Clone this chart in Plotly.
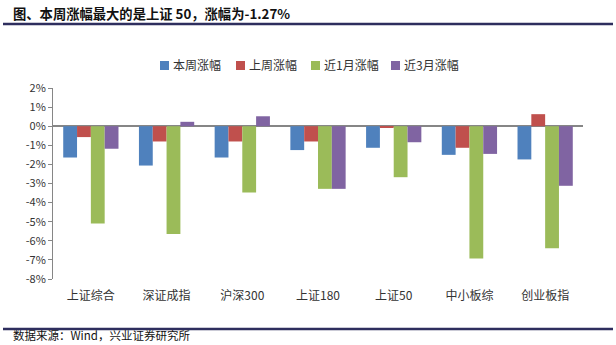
import plotly.graph_objects as go

categories = ["上证综合", "深证成指", "沪深300", "上证180", "上证50", "中小板综", "创业板指"]
series_names = ["本周涨幅", "上周涨幅", "近1月涨幅", "近3月涨幅"]
week = [-1.64, -2.06, -1.64, -1.25, -1.13, -1.50, -1.74]
last_week = [-0.57, -0.80, -0.80, -0.80, -0.05, -1.13, 0.63]
month1 = [-5.09, -5.64, -3.47, -3.28, -2.67, -6.93, -6.39]
month3 = [-1.18, 0.23, 0.52, -3.28, -0.84, -1.45, -3.12]
colors = ["#4F81BD", "#C0504D", "#9BBB59", "#8064A2"]
y_ticks = [2, 1, 0, -1, -2, -3, -4, -5, -6, -7, -8]
y_labels = [f"{v}%" for v in y_ticks]

W, H = 616, 345
L, R, T, B = 53, 33, 88, 66
PW, PH = W - L - R, H - T - B

def px_x(x):
    return (x - L) / PW

def px_y(y):
    return (H - B - y) / PH

fig = go.Figure()
for name, vals, c in zip(series_names, [week, last_week, month1, month3], colors):
    fig.add_trace(go.Bar(x=categories, y=vals, name=name, marker=dict(color=c, line=dict(width=0)),
                         showlegend=False))

font_cjk = "Noto Sans CJK SC"
fig.update_layout(
    width=W, height=H,
    margin=dict(l=L, r=R, t=T, b=B, autoexpand=False),
    paper_bgcolor="white", plot_bgcolor="white",
    barmode="group", bargap=0.27, bargroupgap=0,
    font=dict(family=font_cjk, size=11, color="#333333"),
    xaxis=dict(showline=False, ticks="", showgrid=False, tickfont=dict(size=12, color="#333333"),
               ticklabelstandoff=8),
    yaxis=dict(range=[-8, 2], tickvals=y_ticks, ticktext=y_labels, showgrid=False,
               showline=True, linecolor="#868686", linewidth=1, ticks="outside", ticklen=4,
               tickcolor="#868686", zeroline=True, zerolinecolor="#868686", zerolinewidth=1.5,
               tickfont=dict(size=11, color="#333333")),
    showlegend=False,
)

# legend drawn as swatches + labels
legend_x = [160, 236, 311, 391]
for lx, name, c in zip(legend_x, series_names, colors):
    fig.add_shape(type="rect", xref="paper", yref="paper",
                  x0=px_x(lx), x1=px_x(lx + 9), y0=px_y(70), y1=px_y(61),
                  fillcolor=c, line=dict(width=0))
    fig.add_annotation(x=px_x(lx + 11), y=px_y(64), xref="paper", yref="paper", text=name,
                       showarrow=False, xanchor="left", yanchor="middle",
                       font=dict(size=12, color="#333333", family=font_cjk))

fig.add_annotation(x=px_x(11), y=px_y(13), xref="paper", yref="paper",
                   text="<b>图、本周涨幅最大的是上证 50，涨幅为-1.27%</b>",
                   showarrow=False, xanchor="left", yanchor="middle",
                   font=dict(size=13.3, color="#111111", family=font_cjk))
fig.add_annotation(x=px_x(11), y=px_y(345), xref="paper", yref="paper",
                   text="数据来源：Wind，兴业证券研究所", showarrow=False, xanchor="left", yanchor="bottom",
                   font=dict(size=11.5, color="#111111", family=font_cjk))
for yy in (24, 329):
    fig.add_shape(type="line", xref="paper", yref="paper", x0=px_x(3), x1=px_x(613),
                  y0=px_y(yy), y1=px_y(yy), line=dict(color="#2E2E5E", width=2.5))
fig.write_html("out.html")
